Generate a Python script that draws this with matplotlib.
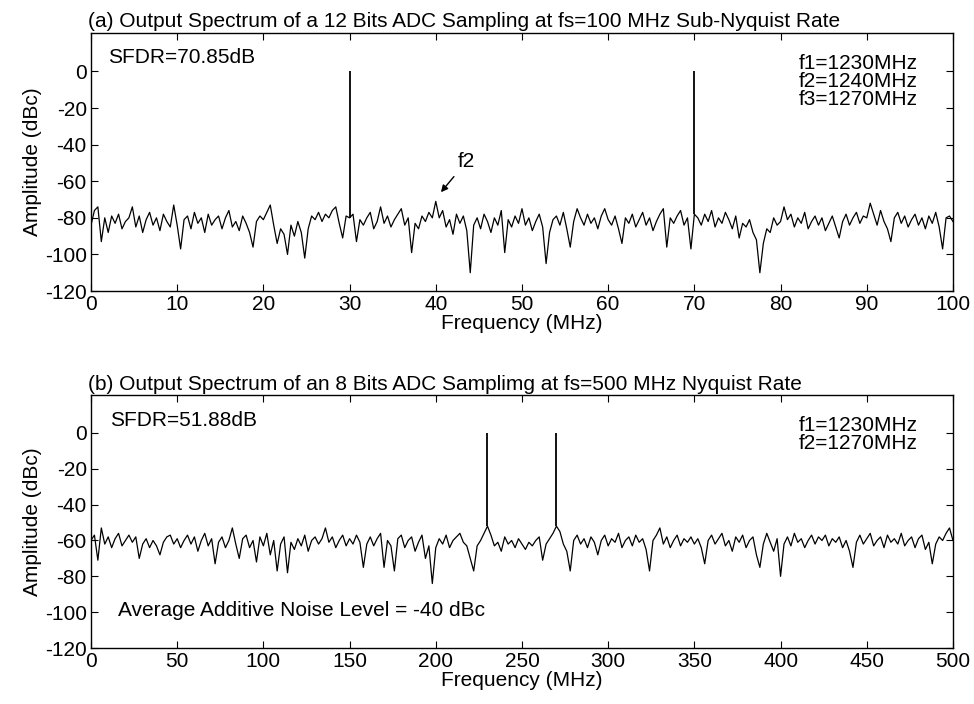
import numpy as np
import matplotlib
matplotlib.use("Agg")
import matplotlib.pyplot as plt

plt.rcParams['font.family'] = ['Liberation Sans', 'DejaVu Sans']
plt.rcParams['axes.unicode_minus'] = False

# (a) 12 bit ADC, fs = 100 MHz, noise floor bins every 0.4 MHz
freq_a_step = 0.4
amp_a = [
    -84, -76, -74, -93, -80, -88, -79, -83, -78, -86, -82, -80, -74, -85, -79, -88, -81, -77, -84, -80, -87, -78, -82, -85, -73,
    -84, -97, -81, -79, -86, -77, -83, -80, -88, -78, -84, -81, -79, -86, -80, -76, -85, -82, -87, -79, -83, -88, -96, -82, -79,
    -81, -77, -73, -84, -94, -86, -89, -100, -84, -90, -82, -88, -102, -86, -79, -81, -77, -82, -78, -80, -76, -74, -83, -91, -79,
    -80,
    -78, -93, -81, -84, -80, -77, -86, -82, -74, -83, -79, -85, -81, -78, -75, -84, -80, -99, -83, -86, -79, -82, -77, -80,
    -71, -80, -76, -85, -81, -89, -78, -83, -79, -87, -110, -84, -80, -86, -78, -82, -88, -80, -84, -76, -99, -81, -85, -79, -83,
    -75, -84, -80, -87, -82, -78, -85, -105, -88, -81, -79, -84, -77, -86, -96, -82, -75, -80, -84, -78, -83, -80, -86, -79, -75,
    -81, -84, -79, -86, -94, -80, -83, -78, -85, -81, -77, -84, -80, -87, -82, -78, -75, -96, -80, -83, -79, -76, -84, -80, -97,
    -78,
    -80, -84, -78, -82, -76, -85, -80, -83, -77, -81, -86, -79, -91, -83, -85, -81, -88, -92, -110, -94, -86, -88, -80, -84,
    -82, -74, -81, -78, -85, -80, -83, -77, -86, -82, -79, -84, -80, -87, -83, -79, -85, -91, -82, -78, -84, -80, -77, -83, -79,
    -80, -72, -78, -84, -76, -82, -86, -93, -80, -77, -83, -79, -85, -81, -78, -84, -80, -86, -79, -83, -77, -85, -97, -80, -79, -82,
]
tone_a_freq = [30, 70]
tone_a_amp = [0, 0]

# (b) 8 bit ADC, fs = 500 MHz, noise floor bins every 2 MHz
freq_b_step = 2.0
amp_b = [
    -60, -57, -71, -53, -62, -58, -64, -59, -56, -63, -60, -57, -61, -58, -70, -62, -59, -64, -60, -63, -68, -61, -58, -57, -62,
    -59, -64, -60, -57, -62, -58, -66, -60, -56, -63, -59, -73, -61, -58, -64, -60, -53, -62, -70, -59, -57, -64, -60, -72, -58,
    -63, -56, -68, -60, -77, -62, -58, -78, -61, -65, -59, -63, -57, -66, -60, -58, -62, -59, -53, -61, -58, -64, -60, -57, -63,
    -59, -62, -57, -61, -75, -62, -58, -63, -59, -56, -75, -60, -63, -77, -59, -57, -64, -60, -58, -66, -61, -57, -70, -63, -84,
    -64, -59, -62, -57, -64, -60, -58, -56, -61, -63, -70, -77, -63, -60, -56, -52, -57, -63, -61, -66, -58, -62, -60, -64, -59,
    -62, -65, -61, -63, -60, -58, -71, -62, -59, -56, -52, -55, -62, -66, -77, -60, -57, -62, -59, -64, -58, -61, -68, -60, -57,
    -63, -59, -61, -56, -64, -60, -58, -63, -57, -61, -59, -65, -77, -60, -57, -53, -62, -58, -64, -60, -57, -63, -59, -61, -58,
    -62, -59, -64, -73, -60, -57, -62, -59, -56, -63, -60, -66, -58, -61, -57, -64, -60, -58, -68, -75, -62, -56, -61, -66, -59,
    -80, -62, -58, -63, -56, -61, -59, -64, -60, -57, -62, -58, -60, -57, -63, -59, -61, -58, -64, -60, -66, -75, -61, -57, -62,
    -59, -56, -63, -60, -58, -64, -57, -61, -59, -62, -56, -63, -60, -58, -64, -59, -57, -65, -61, -73, -62, -58, -60, -56, -53, -60,
]
tone_b_freq = [230, 270]
tone_b_amp = [0, 0]

freq_a = np.arange(len(amp_a)) * freq_a_step
freq_b = np.arange(len(amp_b)) * freq_b_step

yticks = [0, -20, -40, -60, -80, -100, -120]
FS = 15

fig = plt.figure(figsize=(9.74, 7.04), dpi=100)
ax1 = fig.add_axes([0.0934, 0.5866, 0.885, 0.3665])
ax2 = fig.add_axes([0.0934, 0.0795, 0.885, 0.359])


def style_axis(ax, xmax, xstep):
    ax.set_xlim(0, xmax)
    ax.set_ylim(-120, 21)
    ax.set_xticks(np.arange(0, xmax + xstep / 2, xstep))
    ax.set_yticks(yticks)
    ax.tick_params(direction='in', top=True, right=True, length=5,
                   width=0.8, labelsize=FS, pad=3)
    for s in ax.spines.values():
        s.set_linewidth(1.0)
    ax.set_xlabel('Frequency (MHz)', fontsize=FS, labelpad=0)
    ax.set_ylabel('Amplitude (dBc)', fontsize=FS, labelpad=2)


def draw_spectrum(ax, freq, amp, tone_freq, tone_amp):
    ax.plot(freq, amp, color='black', linewidth=0.9)
    base = np.interp(tone_freq, freq, amp)
    ax.vlines(tone_freq, base, tone_amp, color='black', linewidth=1.3)


draw_spectrum(ax1, freq_a, amp_a, tone_a_freq, tone_a_amp)
style_axis(ax1, 100, 10)
ax1.set_title('(a) Output Spectrum of a 12 Bits ADC Sampling at fs=100 MHz Sub-Nyquist Rate',
              loc='left', fontsize=FS, pad=4, x=-0.004)
ax1.text(2.0, 7.7, 'SFDR=70.85dB', fontsize=FS, va='center', ha='left')
ax1.text(95.9, 9.5, 'f1=1230MHz\nf2=1240MHz\nf3=1270MHz', fontsize=FS,
         va='top', ha='right', linespacing=0.92)
ax1.annotate('f2', xy=(40.6, -66), xytext=(42.6, -49), fontsize=FS,
             ha='left', va='center',
             arrowprops=dict(arrowstyle='-|>', color='black', lw=1.0,
                             mutation_scale=10, shrinkA=3, shrinkB=0))

draw_spectrum(ax2, freq_b, amp_b, tone_b_freq, tone_b_amp)
style_axis(ax2, 500, 50)
ax2.set_title('(b) Output Spectrum of an 8 Bits ADC Samplimg at fs=500 MHz Nyquist Rate',
              loc='left', fontsize=FS, pad=4, x=-0.004)
ax2.text(11, 6.7, 'SFDR=51.88dB', fontsize=FS, va='center', ha='left')
ax2.text(479.7, 9.5, 'f1=1230MHz\nf2=1270MHz', fontsize=FS,
         va='top', ha='right', linespacing=0.92)
ax2.text(15.7, -99, 'Average Additive Noise Level = -40 dBc', fontsize=FS,
         va='center', ha='left')

fig.savefig('out.png', dpi=100)
